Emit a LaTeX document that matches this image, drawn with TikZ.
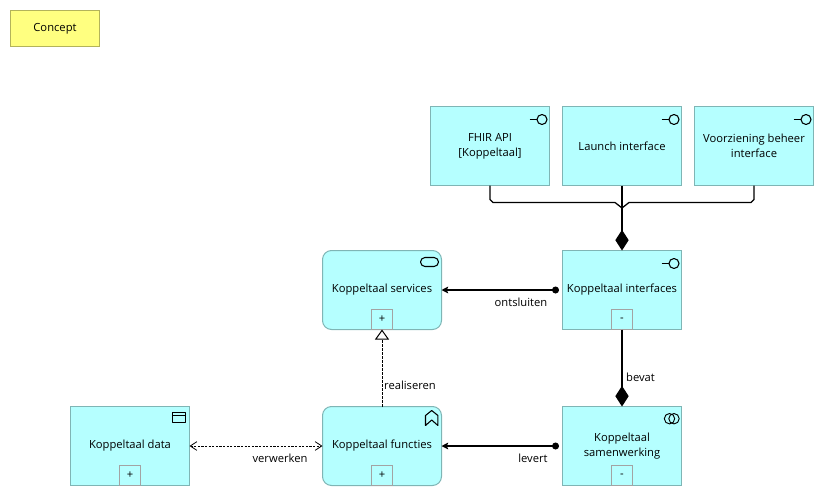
\documentclass[tikz,border=0pt]{standalone}
\usepackage{fontspec}
\setmainfont{Open Sans}
\usetikzlibrary{arrows.meta}
\definecolor{appfill}{HTML}{B5FFFF}
\definecolor{appline}{HTML}{7FB5B5}
\definecolor{conceptfill}{HTML}{FFFF80}
\definecolor{conceptline}{HTML}{B3B35A}
\definecolor{expline}{HTML}{A3A3A3}
\def\px{0.75pt}
\tikzset{
  txt/.style={font=\fontsize{8.4pt}{11.2pt}\selectfont, text=black},
  elem/.style={txt, draw=appline, fill=appfill, line width=\px, minimum width=119*\px, minimum height=79*\px, inner sep=0pt, outer sep=0pt, align=center},
  roundelem/.style={elem, rounded corners=9*\px},
  concept/.style={txt, draw=conceptline, fill=conceptfill, line width=\px, minimum width=89*\px, minimum height=36*\px, inner sep=0pt, outer sep=0pt},
  expander/.style={txt, draw=expline, fill=appfill, line width=\px, minimum width=21*\px, minimum height=20*\px, inner sep=0pt, outer sep=0pt, anchor=south},
  lbl/.style={txt, inner sep=0pt},
  icon/.style={draw=black, line width=0.8pt, line join=round},
  rel/.style={draw=black, line width=0.95pt},
  flow/.style={rel, {Circle[length=5.2pt,width=5.2pt]}-{Stealth[length=5pt,width=5pt,inset=1pt]}},
  comp/.style={rel, -{Diamond[length=15.5pt,width=10pt]}},
  bus/.style={rel, line join=round},
  realize/.style={draw=black, line width=0.75pt, dash pattern=on 1.6pt off 1.4pt, -{Triangle[open,fill=white,length=7.5pt,width=10.5pt,line width=0.75pt,sep=0pt]}},
  access/.style={draw=black, line width=0.75pt, dash pattern=on 1.6pt off 1.1pt, {Straight Barb[length=5pt,width=6.5pt,line width=0.6pt,sep=0pt]}-{Straight Barb[length=5pt,width=6.5pt,line width=0.6pt,sep=0pt]}}
}
\newcommand{\ifaceicon}[1]{\draw[icon] ([shift={(-20,13)}]#1.north east) -- ++(7.5,0); \draw[icon] ([shift={(-7.5,13)}]#1.north east) circle[radius=5*\px];}
\begin{document}
\begin{tikzpicture}[x=\px,y=-\px]
\useasboundingbox (0,0) rectangle (824,496);

\node[concept] (concept) at (55,28.5) {Concept};

\node[elem] (fhir) at (490,146) {FHIR API\\{[}Koppeltaal{]}};
\node[elem] (launch) at (622,146) {Launch interface};
\node[elem] (voorz) at (754,146) {Voorziening beheer\\interface};
\node[elem] (ifaces) at (622,290) {Koppeltaal interfaces};
\node[roundelem] (services) at (382,290) {Koppeltaal services};
\node[roundelem] (functies) at (382,446) {Koppeltaal functies};
\node[elem] (data) at (130,446) {Koppeltaal data};
\node[elem] (samen) at (622,446) {Koppeltaal\\samenwerking};

\node[expander] (xifaces) at (ifaces.south) {-};
\node[expander] (xservices) at (services.south) {+};
\node[expander] (xfuncties) at (functies.south) {+};
\node[expander] (xdata) at (data.south) {+};
\node[expander] (xsamen) at (samen.south) {-};

% icons
\ifaceicon{fhir}
\ifaceicon{launch}
\ifaceicon{voorz}
\ifaceicon{ifaces}
\draw[icon, rounded corners=4.5*\px] ([shift={(-21,7)}]services.north east) rectangle ([shift={(-3,16)}]services.north east);
\draw[icon] ([shift={(-17,6)}]data.north east) rectangle ([shift={(-4,16)}]data.north east);
\draw[icon] ([shift={(-17,9)}]data.north east) -- ([shift={(-4,9)}]data.north east);
\draw[icon] ([shift={(-16,19)}]functies.north east) -- ++(0,-10) -- ++(6.2,-5) -- ++(6.2,5) -- ++(0,10) -- ++(-6.2,-5.5) -- cycle;
\draw[icon, line width=0.7pt] ([shift={(-12,12.2)}]samen.north east) circle[radius=5.2*\px];
\draw[icon, line width=0.7pt] ([shift={(-7.5,12.2)}]samen.north east) circle[radius=5.2*\px];

% junction and bus
\coordinate (junction) at (622,208);
\draw[bus] (fhir.south) -- ++(0,14) -- ++(3,3) -- (615,202.5) -- (junction);
\draw[bus] (voorz.south) -- ++(0,14) -- ++(-3,3) -- (629,202.5) -- (junction);
\draw[bus] (launch.south) -- (junction);
\draw[comp] (junction) -- (ifaces.north);

% relations
\draw[comp] (xifaces.south) -- node[lbl, pos=0.62, right=3.5*\px] (lbevat) {bevat} (samen.north);
\draw[flow] (ifaces.west) ++(-3.5,0) coordinate (ifstart) (ifstart) -- (services.east);
\draw[flow] (samen.west) ++(-3.5,0) coordinate (samstart) (samstart) -- (functies.east);
\draw[realize] (functies.north) -- (xservices.south);
\draw[access] (data.east) -- (functies.west);

\node[lbl] (lontsluiten) at (521,302) {ontsluiten};
\node[lbl] (lrealiseren) at (410,385) {realiseren};
\node[lbl] (lverwerken) at (280,458) {verwerken};
\node[lbl] (llevert) at (533,458) {levert};
\end{tikzpicture}
\end{document}
